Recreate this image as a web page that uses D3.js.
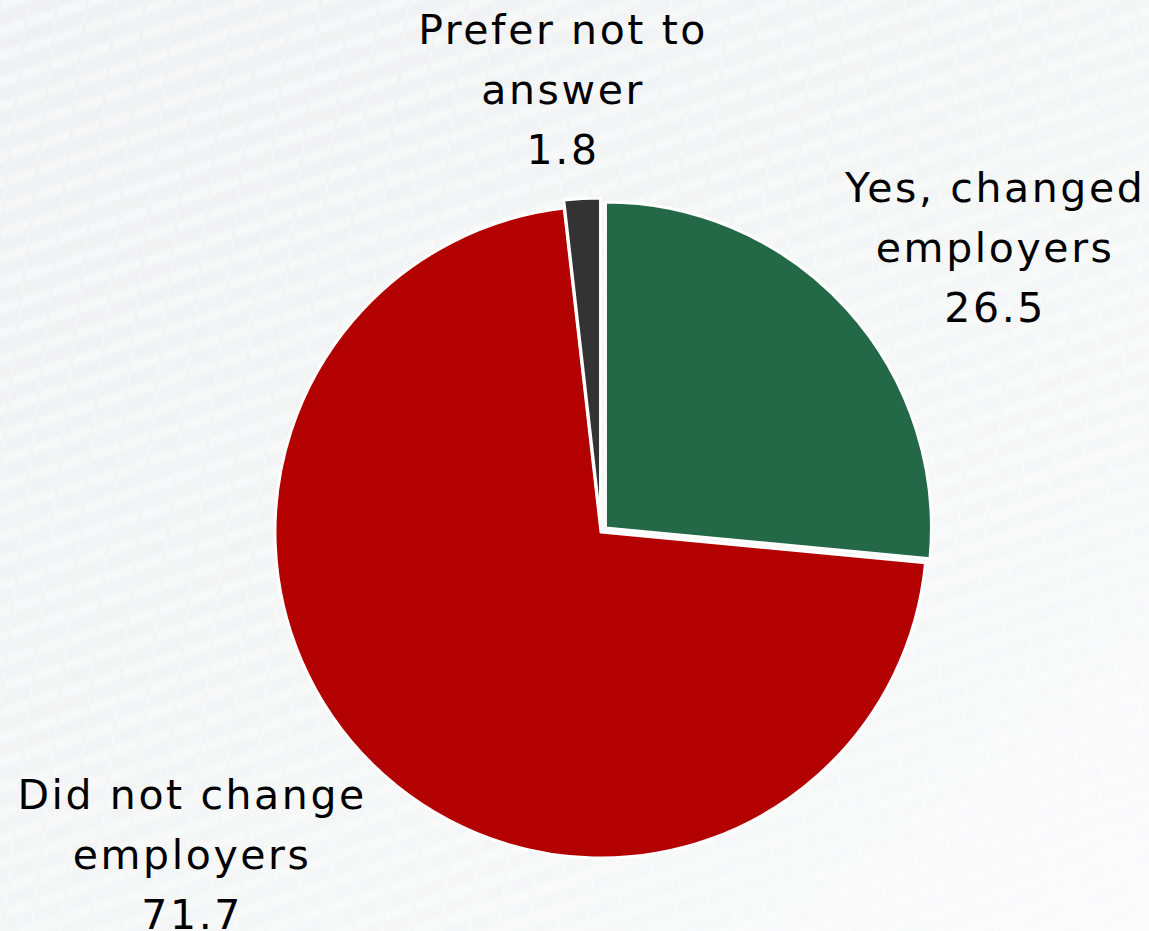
<!DOCTYPE html>
<html>
<head>
<meta charset="utf-8">
<script src="https://cdn.jsdelivr.net/npm/d3@7"></script>
<style>
  html, body { margin: 0; padding: 0; overflow: hidden; }
  #root { width: 1149px; height: 931px; }
  text { font-family: "DejaVu Sans", Verdana, sans-serif; }
</style>
</head>
<body>
<div id="root"></div>
<script>
var categories = ["Yes, changed employers", "Did not change employers", "Prefer not to answer"];
var values = [26.5, 71.7, 1.8];
var labelLines = [["Yes, changed", "employers"], ["Did not change", "employers"], ["Prefer not to", "answer"]];
var colors = ["#236847", "#b30000", "#333333"];

function drawPie() {
    var width = 1149;
    var height = 931;
    var cx = 601;
    var cy = 532;
    var radius = 326;

    // how far each slice is pulled out, and where its label sits
    var explode = [6, 0, 8];
    var labelPos = [{a: 54.2, r: 486}, {a: 231.7, r: 521}, {a: -4.9, r: 444}];

    var svg = d3.select("#root")
        .append("svg")
        .attr("width", width)
        .attr("height", height);

    var defs = svg.append("defs");

    var grad = defs.append("linearGradient")
        .attr("id", "bg")
        .attr("x1", "0").attr("y1", "0")
        .attr("x2", "1").attr("y2", "1");
    grad.append("stop").attr("offset", "0").attr("stop-color", "#f2f3f4");
    grad.append("stop").attr("offset", "0.55").attr("stop-color", "#f7f8f8");
    grad.append("stop").attr("offset", "1").attr("stop-color", "#fcfcfd");

    // faint tiled background
    var pat = defs.append("pattern")
        .attr("id", "tiles")
        .attr("width", 32).attr("height", 24)
        .attr("patternUnits", "userSpaceOnUse")
        .attr("patternTransform", "rotate(-18) skewX(-25)");
    pat.append("rect")
        .attr("x", 1).attr("y", 1)
        .attr("width", 29).attr("height", 10)
        .attr("fill", "#ffffff").attr("fill-opacity", 0.35)
        .attr("stroke", "#e6e8ea").attr("stroke-opacity", 0.35);
    pat.append("rect")
        .attr("x", 1).attr("y", 13)
        .attr("width", 29).attr("height", 10)
        .attr("fill", "#ebedef").attr("fill-opacity", 0.3);

    var fade = defs.append("linearGradient")
        .attr("id", "fade")
        .attr("x1", "0").attr("y1", "0")
        .attr("x2", "1").attr("y2", "1");
    fade.append("stop").attr("offset", "0").attr("stop-color", "#fff").attr("stop-opacity", 1);
    fade.append("stop").attr("offset", "1").attr("stop-color", "#fff").attr("stop-opacity", 0.2);
    defs.append("mask").attr("id", "tileMask")
        .append("rect").attr("width", width).attr("height", height).attr("fill", "url(#fade)");

    svg.append("rect").attr("width", width).attr("height", height).attr("fill", "url(#bg)");
    svg.append("rect").attr("width", width).attr("height", height)
        .attr("fill", "url(#tiles)").attr("mask", "url(#tileMask)");

    var data = categories.map(function (c, i) {
        return {name: c, value: values[i], lines: labelLines[i], color: colors[i], idx: i};
    });

    var pie = d3.pie()
        .sort(null)
        .value(function (d) { return d.value; });

    var arc = d3.arc().innerRadius(0).outerRadius(radius);

    var g = svg.append("g").attr("transform", "translate(" + cx + "," + cy + ")");

    g.selectAll(".slice")
        .data(pie(data))
        .enter()
        .append("path")
        .classed("slice", true)
        .attr("d", arc)
        .attr("fill", function (d) { return d.data.color; })
        .attr("stroke", "#ffffff")
        .attr("stroke-width", 3)
        .attr("stroke-linejoin", "round")
        .attr("transform", function (d) {
            var mid = (d.startAngle + d.endAngle) / 2;
            var e = explode[d.data.idx];
            return "translate(" + (Math.sin(mid) * e) + "," + (-Math.cos(mid) * e) + ")";
        });

    var labels = g.selectAll(".label")
        .data(pie(data))
        .enter()
        .append("text")
        .classed("label", true)
        .attr("text-anchor", "middle")
        .attr("fill", "#000")
        .attr("font-size", 41)
        .attr("letter-spacing", 2.6)
        .attr("transform", function (d) {
            var p = labelPos[d.data.idx];
            var a = p.a * Math.PI / 180;
            return "translate(" + (Math.sin(a) * p.r) + "," + (-Math.cos(a) * p.r) + ")";
        });

    labels.each(function (d) {
        var t = d3.select(this);
        var lines = d.data.lines.concat([d3.format(".1f")(d.data.value)]);
        lines.forEach(function (s, k) {
            t.append("tspan")
                .attr("x", 0)
                .attr("y", (k - 1) * 60 + 14)
                .text(s);
        });
    });
}

drawPie();
</script>
</body>
</html>
